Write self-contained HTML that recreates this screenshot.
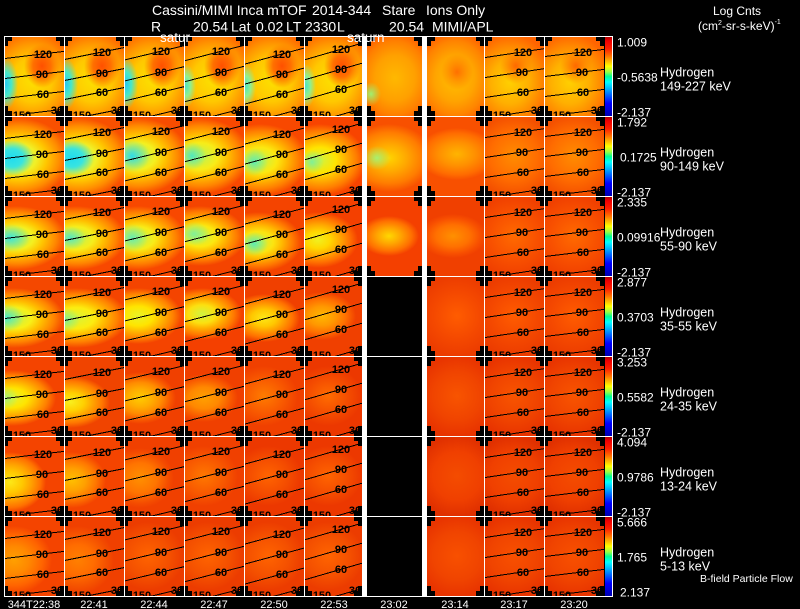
<!DOCTYPE html>
<html><head><meta charset="utf-8"><style>
html,body{margin:0;padding:0;background:#000;width:800px;height:609px;overflow:hidden;position:relative}
.c{position:absolute;width:60px;height:80px}
.w58{width:58px}.w55{width:55px}.w57{width:57px}
.cb{position:absolute;left:605px;width:7px;height:79px;background:linear-gradient(to bottom,#b00000 0%,#f00000 5%,#ff2000 15%,#ff7000 24%,#ffb000 30%,#ffff00 37%,#a0ff40 44%,#00ff90 50%,#00ffff 57%,#00b0ff 66%,#0060ff 74%,#0000ff 84%,#0000b0 100%)}
.a1{background:radial-gradient(12px 26px at 2px 48px,#28c8f0,#48e8c8 45%,rgba(200,248,64,0)),radial-gradient(18px 22px at 38px 30px,#ff5000,#ff7000 50%,rgba(255,160,0,0)),radial-gradient(44px 48px at 28px 44px,#fce000,#ffc800 45%,#ff9800 75%,#ff6a00)}
.a2{background:radial-gradient(10px 22px at 2px 50px,#50e4c0,#90f090 45%,rgba(200,248,64,0)),radial-gradient(18px 22px at 38px 30px,#ff5000,#ff7000 50%,rgba(255,160,0,0)),radial-gradient(44px 48px at 28px 44px,#fce000,#ffc800 45%,#ff9800 75%,#ff6a00)}
.a7{background:radial-gradient(10px 12px at 4px 58px,#a0f070,rgba(255,200,0,0)),radial-gradient(40px 46px at 28px 42px,#ffb800,#ffa000 50%,#ff8000 80%,#ff6000)}
.a8{background:radial-gradient(16px 18px at 30px 36px,#ff7000,rgba(255,140,0,0)),radial-gradient(40px 46px at 28px 42px,#ffc000,#ffa400 50%,#ff8400 80%,#ff6400)}
.a9{background:radial-gradient(16px 18px at 32px 30px,#ff6800,rgba(255,140,0,0)),radial-gradient(42px 48px at 26px 46px,#ffd000,#ffb000 45%,#ff8800 75%,#ff6400)}
.b1{background:radial-gradient(22px 18px at 8px 42px,#20dcf0,#38e4e0 50%,rgba(140,240,110,0)),radial-gradient(52px 40px at 14px 42px,#a8f468,#f0f028 35%,#ffc800 55%,#ff8c00 80%,#f85000)}
.b3{background:radial-gradient(18px 16px at 8px 40px,#30dce8,rgba(140,240,110,0)),radial-gradient(50px 38px at 14px 40px,#b0f460,#f4f020 35%,#ffc400 55%,#ff8800 80%,#f84c00)}
.b4{background:radial-gradient(14px 14px at 8px 40px,#50e8c0,rgba(160,244,100,0)),radial-gradient(50px 38px at 16px 40px,#b8f458,#f8ec18 35%,#ffc000 55%,#ff8400 80%,#f84800)}
.b5{background:radial-gradient(14px 14px at 10px 46px,#60ecb0,rgba(170,244,90,0)),radial-gradient(48px 36px at 16px 44px,#c0f450,#fce810 35%,#ffbc00 55%,#ff8000 80%,#f84800)}
.b6{background:radial-gradient(12px 12px at 8px 46px,#80f098,rgba(190,244,80,0)),radial-gradient(46px 36px at 16px 44px,#d0f440,#ffe400 35%,#ffb400 55%,#ff7c00 80%,#f84400)}
.b7{background:radial-gradient(14px 12px at 10px 42px,#a8f070,rgba(255,210,0,0)),radial-gradient(44px 34px at 22px 42px,#ffd400,#ffa800 40%,#ff7c00 75%,#f85000)}
.b8{background:radial-gradient(40px 26px at 30px 38px,#ffb400,#ff9000 45%,#ff6c00 80%,#f85000)}
.b9{background:radial-gradient(40px 40px at 30px 40px,#ff8c00,#ff6c00 60%,#f45000)}
.d1{background:radial-gradient(20px 14px at 6px 42px,#40e4d8,rgba(150,240,100,0)),radial-gradient(50px 32px at 12px 42px,#b0f460,#f4f020 35%,#ffc400 55%,#ff8800 80%,#f84c00)}
.d2{background:radial-gradient(16px 12px at 6px 42px,#58e8c0,rgba(150,240,100,0)),radial-gradient(50px 32px at 12px 42px,#b8f458,#f6ee1c 35%,#ffc000 55%,#ff8400 80%,#f84800)}
.d3{background:radial-gradient(16px 14px at 8px 42px,#68ecb0,rgba(170,244,90,0)),radial-gradient(48px 32px at 14px 42px,#c0f450,#f8ec18 35%,#ffbc00 55%,#ff8000 80%,#f84800)}
.d4{background:radial-gradient(16px 12px at 10px 38px,#80f098,rgba(190,244,80,0)),radial-gradient(46px 30px at 16px 40px,#c8f448,#fce810 35%,#ffb800 55%,#ff7c00 80%,#f44400)}
.d5{background:radial-gradient(14px 12px at 10px 48px,#60ecb0,rgba(190,244,80,0)),radial-gradient(44px 30px at 14px 46px,#c8f448,#fce410 35%,#ffb800 55%,#ff7800 80%,#f44400)}
.d6{background:radial-gradient(40px 28px at 14px 44px,#f0f020,#ffd800 30%,#ffa800 55%,#ff7000 80%,#f44000)}
.d7{background:radial-gradient(30px 20px at 22px 40px,#ffd800,#ffa400 40%,#ff7000 75%,#f44000)}
.d8{background:radial-gradient(34px 22px at 26px 40px,#ff9000,#ff7000 50%,#f85000 80%,#f04000)}
.d9{background:radial-gradient(40px 40px at 30px 40px,#ff6a00,#f85000 60%,#f04000)}
.e1{background:radial-gradient(18px 14px at 2px 42px,#48e8c8,rgba(170,240,90,0)),radial-gradient(50px 30px at 10px 42px,#c0f450,#f8f018 35%,#ffc000 55%,#ff8400 80%,#f44800)}
.e2{background:radial-gradient(14px 12px at 2px 44px,#80f090,rgba(200,244,70,0)),radial-gradient(52px 30px at 12px 42px,#d8f438,#fcec10 35%,#ffbc00 55%,#ff8000 80%,#f44400)}
.e3{background:radial-gradient(44px 28px at 14px 40px,#e8f428,#ffe400 35%,#ffb800 55%,#ff8000 80%,#f44400)}
.e4{background:radial-gradient(40px 26px at 18px 38px,#d0f440,#fce010 35%,#ffb000 55%,#ff7800 80%,#f44000)}
.e5{background:radial-gradient(36px 24px at 20px 42px,#fce818,#ffc800 35%,#ffa000 55%,#ff7000 80%,#f04000)}
.e6{background:radial-gradient(34px 24px at 18px 40px,#ffb800,#ff9800 40%,#ff7000 70%,#f04000)}
.e8{background:radial-gradient(40px 40px at 30px 40px,#ff5c00,#f44800 60%,#ec3c00)}
.f1{background:radial-gradient(12px 12px at 2px 42px,#a8f070,rgba(230,244,50,0)),radial-gradient(44px 28px at 8px 42px,#e4f430,#ffe400 35%,#ffb800 55%,#ff8000 80%,#f44400)}
.f2{background:radial-gradient(40px 26px at 6px 46px,#f8f020,#ffd000 35%,#ffa800 55%,#ff7800 80%,#f04400)}
.f3{background:radial-gradient(36px 26px at 16px 42px,#ffcc00,#ffac00 35%,#ff8c00 60%,#f85800 85%,#f04000)}
.f4{background:radial-gradient(34px 24px at 20px 42px,#ffa000,#ff8800 45%,#f85800 80%,#f04000)}
.f5{background:radial-gradient(34px 30px at 20px 40px,#ff7c00,#f85800 60%,#f04000)}
.f6{background:radial-gradient(34px 30px at 24px 40px,#ff6c00,#f44c00 60%,#ec3800)}
.f8{background:radial-gradient(40px 40px at 30px 40px,#f85400,#f04400 60%,#e83400)}
.g1{background:radial-gradient(36px 30px at 6px 46px,#fce818,#ffc800 35%,#ffa000 60%,#ff7000 85%,#f44400)}
.g2{background:radial-gradient(34px 28px at 8px 44px,#ffc000,#ffa000 40%,#ff7800 70%,#f44400)}
.g3{background:radial-gradient(34px 30px at 16px 42px,#ff9000,#ff7400 50%,#f44c00 85%,#f04000)}
.g4{background:radial-gradient(34px 30px at 20px 40px,#ff7800,#f85800 60%,#f04000)}
.g5{background:radial-gradient(34px 30px at 24px 40px,#ff6400,#f44c00 60%,#ec3800)}
.g8{background:radial-gradient(40px 40px at 30px 40px,#f44c00,#f04000 60%,#e03000)}
.h1{background:radial-gradient(38px 34px at 10px 44px,#ffa000,#ff8800 40%,#ff6400 75%,#f44400)}
.h2{background:radial-gradient(36px 34px at 14px 44px,#ff8000,#ff6c00 45%,#f45000 80%,#f04000)}
.h3{background:radial-gradient(36px 34px at 24px 40px,#ff6400,#f45000 60%,#ec3c00)}
.h8{background:radial-gradient(40px 40px at 30px 40px,#f85000,#f04400 60%,#e83400)}
svg text{font-family:"Liberation Sans",Arial,sans-serif}
.n{fill:#000}
.k{stroke:#000;fill:none;stroke-width:1;shape-rendering:crispEdges}
.t text{font-weight:bold;font-size:11px;text-anchor:middle;fill:#000}
.w text,.w{fill:#fff}
</style></head><body>

<div class="c a1" style="left:4px;top:36px"></div>
<div class="c a1" style="left:64px;top:36px"></div>
<div class="c a1" style="left:124px;top:36px"></div>
<div class="c a2" style="left:184px;top:36px"></div>
<div class="c a2" style="left:244px;top:36px"></div>
<div class="c a2 w58" style="left:304px;top:36px"></div>
<div class="c a7 w55" style="left:367px;top:36px"></div>
<div class="c a8 w57" style="left:427px;top:36px"></div>
<div class="c a9" style="left:484px;top:36px"></div>
<div class="c a9" style="left:544px;top:36px"></div>

<div class="c b1" style="left:4px;top:116px"></div>
<div class="c b1" style="left:64px;top:116px"></div>
<div class="c b3" style="left:124px;top:116px"></div>
<div class="c b4" style="left:184px;top:116px"></div>
<div class="c b5" style="left:244px;top:116px"></div>
<div class="c b6 w58" style="left:304px;top:116px"></div>
<div class="c b7 w55" style="left:367px;top:116px"></div>
<div class="c b8 w57" style="left:427px;top:116px"></div>
<div class="c b9" style="left:484px;top:116px"></div>
<div class="c b9" style="left:544px;top:116px"></div>

<div class="c d1" style="left:4px;top:196px"></div>
<div class="c d2" style="left:64px;top:196px"></div>
<div class="c d3" style="left:124px;top:196px"></div>
<div class="c d4" style="left:184px;top:196px"></div>
<div class="c d5" style="left:244px;top:196px"></div>
<div class="c d6 w58" style="left:304px;top:196px"></div>
<div class="c d7 w55" style="left:367px;top:196px"></div>
<div class="c d8 w57" style="left:427px;top:196px"></div>
<div class="c d9" style="left:484px;top:196px"></div>
<div class="c d9" style="left:544px;top:196px"></div>

<div class="c e1" style="left:4px;top:276px"></div>
<div class="c e2" style="left:64px;top:276px"></div>
<div class="c e3" style="left:124px;top:276px"></div>
<div class="c e4" style="left:184px;top:276px"></div>
<div class="c e5" style="left:244px;top:276px"></div>
<div class="c e6 w58" style="left:304px;top:276px"></div>
<div class="c e8 w57" style="left:427px;top:276px"></div>
<div class="c e8" style="left:484px;top:276px"></div>
<div class="c e8" style="left:544px;top:276px"></div>

<div class="c f1" style="left:4px;top:356px"></div>
<div class="c f2" style="left:64px;top:356px"></div>
<div class="c f3" style="left:124px;top:356px"></div>
<div class="c f4" style="left:184px;top:356px"></div>
<div class="c f5" style="left:244px;top:356px"></div>
<div class="c f6 w58" style="left:304px;top:356px"></div>
<div class="c f8 w57" style="left:427px;top:356px"></div>
<div class="c f8" style="left:484px;top:356px"></div>
<div class="c f8" style="left:544px;top:356px"></div>

<div class="c g1" style="left:4px;top:436px"></div>
<div class="c g2" style="left:64px;top:436px"></div>
<div class="c g3" style="left:124px;top:436px"></div>
<div class="c g4" style="left:184px;top:436px"></div>
<div class="c g5" style="left:244px;top:436px"></div>
<div class="c g5 w58" style="left:304px;top:436px"></div>
<div class="c g8 w57" style="left:427px;top:436px"></div>
<div class="c g8" style="left:484px;top:436px"></div>
<div class="c g8" style="left:544px;top:436px"></div>

<div class="c h1" style="left:4px;top:516px"></div>
<div class="c h2" style="left:64px;top:516px"></div>
<div class="c h3" style="left:124px;top:516px"></div>
<div class="c h3" style="left:184px;top:516px"></div>
<div class="c h3" style="left:244px;top:516px"></div>
<div class="c h3 w58" style="left:304px;top:516px"></div>
<div class="c h8 w57" style="left:427px;top:516px"></div>
<div class="c h8" style="left:484px;top:516px"></div>
<div class="c h8" style="left:544px;top:516px"></div>

<div class="cb" style="top:37px"></div>
<div class="cb" style="top:117px"></div>
<div class="cb" style="top:197px"></div>
<div class="cb" style="top:277px"></div>
<div class="cb" style="top:357px"></div>
<div class="cb" style="top:437px"></div>
<div class="cb" style="top:517px"></div>

<svg width="800" height="609" style="position:absolute;left:0;top:0" xmlns="http://www.w3.org/2000/svg">
<defs>
<path id="n60" d="M0 0h8v5h-4v5h-4zM60 0h-8v5h4v5h4zM0 80h8v-5h-4v-5h-4zM60 80h-8v-5h4v-5h4z"/>
<path id="n58" d="M0 0h8v5h-4v5h-4zM58 0h-8v5h4v5h4zM0 80h8v-5h-4v-5h-4zM58 80h-8v-5h4v-5h4z"/>
<path id="n55" d="M0 0h8v5h-4v5h-4zM55 0h-8v5h4v5h4zM0 80h8v-5h-4v-5h-4zM55 80h-8v-5h4v-5h4z"/>
<path id="n57" d="M0 0h8v5h-4v5h-4zM57 0h-8v5h4v5h4zM0 80h8v-5h-4v-5h-4zM57 80h-8v-5h4v-5h4z"/>
<path id="k1" d="M0 22.6L60 15.4M0 42.6L60 35.4M0 62.6L60 55.4M20 78L60 73.2"/>
<path id="k2" d="M0 23.6L60 11.6M0 44.6L60 32.6M0 63.6L60 51.6M20 80.6L60 72.6"/>
<path id="k3" d="M0 24.1L60 9.7M0 45.1L60 30.7M0 65.1L60 50.7M20 81.9L60 72.3"/>
<path id="k4" d="M0 24.9L60 9.3M0 45.9L60 30.3M0 65.9L60 50.3M20 82.6L60 72.2"/>
<path id="k5" d="M0 28.3L60 12.1M0 48.3L60 32.1M0 68.3L60 52.1M20 82.9L60 72.1"/>
<path id="k6" d="M0 24L58 7.2M0 44L58 27.2M0 64L58 47.2M20 83.6L58 72.6"/>
<path id="k9" d="M0 21.7L60 12.7M0 41.7L60 32.7M0 61.7L60 52.7M20 79L60 73"/>
<path id="k10" d="M0 20.6L60 13.4M0 40.6L60 33.4M0 60.6L60 53.4M20 78L60 73.2"/>
</defs>

<g class="t">
<!-- row 1 -->
<svg x="4" y="36" width="60" height="80"><use href="#n60" class="n"/><use href="#k1" class="k"/><text x="39" y="22">120</text><text x="38" y="42">90</text><text x="39" y="62">60</text><text x="18" y="83">150</text><text x="53" y="78">30</text></svg>
<svg x="64" y="36" width="60" height="80"><use href="#n60" class="n"/><use href="#k2" class="k"/><text x="38" y="20">120</text><text x="38" y="41">90</text><text x="38" y="60">60</text><text x="18" y="83">150</text><text x="53" y="78">30</text></svg>
<svg x="124" y="36" width="60" height="80"><use href="#n60" class="n"/><use href="#k3" class="k"/><text x="37" y="19">120</text><text x="37" y="40">90</text><text x="37" y="60">60</text><text x="18" y="83">150</text><text x="53" y="78">30</text></svg>
<svg x="184" y="36" width="60" height="80"><use href="#n60" class="n"/><use href="#k4" class="k"/><text x="37" y="19">120</text><text x="37" y="40">90</text><text x="37" y="60">60</text><text x="18" y="83">150</text><text x="53" y="78">30</text></svg>
<svg x="244" y="36" width="60" height="80"><use href="#n60" class="n"/><use href="#k5" class="k"/><text x="38" y="22">120</text><text x="38" y="42">90</text><text x="38" y="62">60</text><text x="18" y="83">150</text><text x="53" y="78">30</text></svg>
<svg x="304" y="36" width="58" height="80"><use href="#n58" class="n"/><use href="#k6" class="k"/><text x="37" y="17">120</text><text x="37" y="37">90</text><text x="37" y="57">60</text><text x="18" y="83">150</text><text x="51" y="78">30</text></svg>
<svg x="367" y="36" width="55" height="80"><use href="#n55" class="n"/></svg>
<svg x="427" y="36" width="57" height="80"><use href="#n57" class="n"/></svg>
<svg x="484" y="36" width="60" height="80"><use href="#n60" class="n"/><use href="#k9" class="k"/><text x="39" y="20">120</text><text x="38" y="40">90</text><text x="39" y="60">60</text><text x="18" y="83">150</text><text x="53" y="78">30</text></svg>
<svg x="544" y="36" width="60" height="80"><use href="#n60" class="n"/><use href="#k10" class="k"/><text x="39" y="20">120</text><text x="38" y="40">90</text><text x="39" y="60">60</text><text x="18" y="83">150</text><text x="53" y="78">30</text></svg>
<!-- row 2 -->
<svg x="4" y="116" width="60" height="80"><use href="#n60" class="n"/><use href="#k1" class="k"/><text x="39" y="22">120</text><text x="38" y="42">90</text><text x="39" y="62">60</text><text x="18" y="83">150</text><text x="53" y="78">30</text></svg>
<svg x="64" y="116" width="60" height="80"><use href="#n60" class="n"/><use href="#k2" class="k"/><text x="38" y="20">120</text><text x="38" y="41">90</text><text x="38" y="60">60</text><text x="18" y="83">150</text><text x="53" y="78">30</text></svg>
<svg x="124" y="116" width="60" height="80"><use href="#n60" class="n"/><use href="#k3" class="k"/><text x="37" y="19">120</text><text x="37" y="40">90</text><text x="37" y="60">60</text><text x="18" y="83">150</text><text x="53" y="78">30</text></svg>
<svg x="184" y="116" width="60" height="80"><use href="#n60" class="n"/><use href="#k4" class="k"/><text x="37" y="19">120</text><text x="37" y="40">90</text><text x="37" y="60">60</text><text x="18" y="83">150</text><text x="53" y="78">30</text></svg>
<svg x="244" y="116" width="60" height="80"><use href="#n60" class="n"/><use href="#k5" class="k"/><text x="38" y="22">120</text><text x="38" y="42">90</text><text x="38" y="62">60</text><text x="18" y="83">150</text><text x="53" y="78">30</text></svg>
<svg x="304" y="116" width="58" height="80"><use href="#n58" class="n"/><use href="#k6" class="k"/><text x="37" y="17">120</text><text x="37" y="37">90</text><text x="37" y="57">60</text><text x="18" y="83">150</text><text x="51" y="78">30</text></svg>
<svg x="367" y="116" width="55" height="80"><use href="#n55" class="n"/></svg>
<svg x="427" y="116" width="57" height="80"><use href="#n57" class="n"/></svg>
<svg x="484" y="116" width="60" height="80"><use href="#n60" class="n"/><use href="#k9" class="k"/><text x="39" y="20">120</text><text x="38" y="40">90</text><text x="39" y="60">60</text><text x="18" y="83">150</text><text x="53" y="78">30</text></svg>
<svg x="544" y="116" width="60" height="80"><use href="#n60" class="n"/><use href="#k10" class="k"/><text x="39" y="20">120</text><text x="38" y="40">90</text><text x="39" y="60">60</text><text x="18" y="83">150</text><text x="53" y="78">30</text></svg>
<!-- row 3 -->
<svg x="4" y="196" width="60" height="80"><use href="#n60" class="n"/><use href="#k1" class="k"/><text x="39" y="22">120</text><text x="38" y="42">90</text><text x="39" y="62">60</text><text x="18" y="83">150</text><text x="53" y="78">30</text></svg>
<svg x="64" y="196" width="60" height="80"><use href="#n60" class="n"/><use href="#k2" class="k"/><text x="38" y="20">120</text><text x="38" y="41">90</text><text x="38" y="60">60</text><text x="18" y="83">150</text><text x="53" y="78">30</text></svg>
<svg x="124" y="196" width="60" height="80"><use href="#n60" class="n"/><use href="#k3" class="k"/><text x="37" y="19">120</text><text x="37" y="40">90</text><text x="37" y="60">60</text><text x="18" y="83">150</text><text x="53" y="78">30</text></svg>
<svg x="184" y="196" width="60" height="80"><use href="#n60" class="n"/><use href="#k4" class="k"/><text x="37" y="19">120</text><text x="37" y="40">90</text><text x="37" y="60">60</text><text x="18" y="83">150</text><text x="53" y="78">30</text></svg>
<svg x="244" y="196" width="60" height="80"><use href="#n60" class="n"/><use href="#k5" class="k"/><text x="38" y="22">120</text><text x="38" y="42">90</text><text x="38" y="62">60</text><text x="18" y="83">150</text><text x="53" y="78">30</text></svg>
<svg x="304" y="196" width="58" height="80"><use href="#n58" class="n"/><use href="#k6" class="k"/><text x="37" y="17">120</text><text x="37" y="37">90</text><text x="37" y="57">60</text><text x="18" y="83">150</text><text x="51" y="78">30</text></svg>
<svg x="367" y="196" width="55" height="80"><use href="#n55" class="n"/></svg>
<svg x="427" y="196" width="57" height="80"><use href="#n57" class="n"/></svg>
<svg x="484" y="196" width="60" height="80"><use href="#n60" class="n"/><use href="#k9" class="k"/><text x="39" y="20">120</text><text x="38" y="40">90</text><text x="39" y="60">60</text><text x="18" y="83">150</text><text x="53" y="78">30</text></svg>
<svg x="544" y="196" width="60" height="80"><use href="#n60" class="n"/><use href="#k10" class="k"/><text x="39" y="20">120</text><text x="38" y="40">90</text><text x="39" y="60">60</text><text x="18" y="83">150</text><text x="53" y="78">30</text></svg>
<!-- row 4 -->
<svg x="4" y="276" width="60" height="80"><use href="#n60" class="n"/><use href="#k1" class="k"/><text x="39" y="22">120</text><text x="38" y="42">90</text><text x="39" y="62">60</text><text x="18" y="83">150</text><text x="53" y="78">30</text></svg>
<svg x="64" y="276" width="60" height="80"><use href="#n60" class="n"/><use href="#k2" class="k"/><text x="38" y="20">120</text><text x="38" y="41">90</text><text x="38" y="60">60</text><text x="18" y="83">150</text><text x="53" y="78">30</text></svg>
<svg x="124" y="276" width="60" height="80"><use href="#n60" class="n"/><use href="#k3" class="k"/><text x="37" y="19">120</text><text x="37" y="40">90</text><text x="37" y="60">60</text><text x="18" y="83">150</text><text x="53" y="78">30</text></svg>
<svg x="184" y="276" width="60" height="80"><use href="#n60" class="n"/><use href="#k4" class="k"/><text x="37" y="19">120</text><text x="37" y="40">90</text><text x="37" y="60">60</text><text x="18" y="83">150</text><text x="53" y="78">30</text></svg>
<svg x="244" y="276" width="60" height="80"><use href="#n60" class="n"/><use href="#k5" class="k"/><text x="38" y="22">120</text><text x="38" y="42">90</text><text x="38" y="62">60</text><text x="18" y="83">150</text><text x="53" y="78">30</text></svg>
<svg x="304" y="276" width="58" height="80"><use href="#n58" class="n"/><use href="#k6" class="k"/><text x="37" y="17">120</text><text x="37" y="37">90</text><text x="37" y="57">60</text><text x="18" y="83">150</text><text x="51" y="78">30</text></svg>
<svg x="427" y="276" width="57" height="80"><use href="#n57" class="n"/></svg>
<svg x="484" y="276" width="60" height="80"><use href="#n60" class="n"/><use href="#k9" class="k"/><text x="39" y="20">120</text><text x="38" y="40">90</text><text x="39" y="60">60</text><text x="18" y="83">150</text><text x="53" y="78">30</text></svg>
<svg x="544" y="276" width="60" height="80"><use href="#n60" class="n"/><use href="#k10" class="k"/><text x="39" y="20">120</text><text x="38" y="40">90</text><text x="39" y="60">60</text><text x="18" y="83">150</text><text x="53" y="78">30</text></svg>
<!-- row 5 -->
<svg x="4" y="356" width="60" height="80"><use href="#n60" class="n"/><use href="#k1" class="k"/><text x="39" y="22">120</text><text x="38" y="42">90</text><text x="39" y="62">60</text><text x="18" y="83">150</text><text x="53" y="78">30</text></svg>
<svg x="64" y="356" width="60" height="80"><use href="#n60" class="n"/><use href="#k2" class="k"/><text x="38" y="20">120</text><text x="38" y="41">90</text><text x="38" y="60">60</text><text x="18" y="83">150</text><text x="53" y="78">30</text></svg>
<svg x="124" y="356" width="60" height="80"><use href="#n60" class="n"/><use href="#k3" class="k"/><text x="37" y="19">120</text><text x="37" y="40">90</text><text x="37" y="60">60</text><text x="18" y="83">150</text><text x="53" y="78">30</text></svg>
<svg x="184" y="356" width="60" height="80"><use href="#n60" class="n"/><use href="#k4" class="k"/><text x="37" y="19">120</text><text x="37" y="40">90</text><text x="37" y="60">60</text><text x="18" y="83">150</text><text x="53" y="78">30</text></svg>
<svg x="244" y="356" width="60" height="80"><use href="#n60" class="n"/><use href="#k5" class="k"/><text x="38" y="22">120</text><text x="38" y="42">90</text><text x="38" y="62">60</text><text x="18" y="83">150</text><text x="53" y="78">30</text></svg>
<svg x="304" y="356" width="58" height="80"><use href="#n58" class="n"/><use href="#k6" class="k"/><text x="37" y="17">120</text><text x="37" y="37">90</text><text x="37" y="57">60</text><text x="18" y="83">150</text><text x="51" y="78">30</text></svg>
<svg x="427" y="356" width="57" height="80"><use href="#n57" class="n"/></svg>
<svg x="484" y="356" width="60" height="80"><use href="#n60" class="n"/><use href="#k9" class="k"/><text x="39" y="20">120</text><text x="38" y="40">90</text><text x="39" y="60">60</text><text x="18" y="83">150</text><text x="53" y="78">30</text></svg>
<svg x="544" y="356" width="60" height="80"><use href="#n60" class="n"/><use href="#k10" class="k"/><text x="39" y="20">120</text><text x="38" y="40">90</text><text x="39" y="60">60</text><text x="18" y="83">150</text><text x="53" y="78">30</text></svg>
<!-- row 6 -->
<svg x="4" y="436" width="60" height="80"><use href="#n60" class="n"/><use href="#k1" class="k"/><text x="39" y="22">120</text><text x="38" y="42">90</text><text x="39" y="62">60</text><text x="18" y="83">150</text><text x="53" y="78">30</text></svg>
<svg x="64" y="436" width="60" height="80"><use href="#n60" class="n"/><use href="#k2" class="k"/><text x="38" y="20">120</text><text x="38" y="41">90</text><text x="38" y="60">60</text><text x="18" y="83">150</text><text x="53" y="78">30</text></svg>
<svg x="124" y="436" width="60" height="80"><use href="#n60" class="n"/><use href="#k3" class="k"/><text x="37" y="19">120</text><text x="37" y="40">90</text><text x="37" y="60">60</text><text x="18" y="83">150</text><text x="53" y="78">30</text></svg>
<svg x="184" y="436" width="60" height="80"><use href="#n60" class="n"/><use href="#k4" class="k"/><text x="37" y="19">120</text><text x="37" y="40">90</text><text x="37" y="60">60</text><text x="18" y="83">150</text><text x="53" y="78">30</text></svg>
<svg x="244" y="436" width="60" height="80"><use href="#n60" class="n"/><use href="#k5" class="k"/><text x="38" y="22">120</text><text x="38" y="42">90</text><text x="38" y="62">60</text><text x="18" y="83">150</text><text x="53" y="78">30</text></svg>
<svg x="304" y="436" width="58" height="80"><use href="#n58" class="n"/><use href="#k6" class="k"/><text x="37" y="17">120</text><text x="37" y="37">90</text><text x="37" y="57">60</text><text x="18" y="83">150</text><text x="51" y="78">30</text></svg>
<svg x="427" y="436" width="57" height="80"><use href="#n57" class="n"/></svg>
<svg x="484" y="436" width="60" height="80"><use href="#n60" class="n"/><use href="#k9" class="k"/><text x="39" y="20">120</text><text x="38" y="40">90</text><text x="39" y="60">60</text><text x="18" y="83">150</text><text x="53" y="78">30</text></svg>
<svg x="544" y="436" width="60" height="80"><use href="#n60" class="n"/><use href="#k10" class="k"/><text x="39" y="20">120</text><text x="38" y="40">90</text><text x="39" y="60">60</text><text x="18" y="83">150</text><text x="53" y="78">30</text></svg>
<!-- row 7 -->
<svg x="4" y="516" width="60" height="80"><use href="#n60" class="n"/><use href="#k1" class="k"/><text x="39" y="22">120</text><text x="38" y="42">90</text><text x="39" y="62">60</text><text x="18" y="83">150</text><text x="53" y="78">30</text></svg>
<svg x="64" y="516" width="60" height="80"><use href="#n60" class="n"/><use href="#k2" class="k"/><text x="38" y="20">120</text><text x="38" y="41">90</text><text x="38" y="60">60</text><text x="18" y="83">150</text><text x="53" y="78">30</text></svg>
<svg x="124" y="516" width="60" height="80"><use href="#n60" class="n"/><use href="#k3" class="k"/><text x="37" y="19">120</text><text x="37" y="40">90</text><text x="37" y="60">60</text><text x="18" y="83">150</text><text x="53" y="78">30</text></svg>
<svg x="184" y="516" width="60" height="80"><use href="#n60" class="n"/><use href="#k4" class="k"/><text x="37" y="19">120</text><text x="37" y="40">90</text><text x="37" y="60">60</text><text x="18" y="83">150</text><text x="53" y="78">30</text></svg>
<svg x="244" y="516" width="60" height="80"><use href="#n60" class="n"/><use href="#k5" class="k"/><text x="38" y="22">120</text><text x="38" y="42">90</text><text x="38" y="62">60</text><text x="18" y="83">150</text><text x="53" y="78">30</text></svg>
<svg x="304" y="516" width="58" height="80"><use href="#n58" class="n"/><use href="#k6" class="k"/><text x="37" y="17">120</text><text x="37" y="37">90</text><text x="37" y="57">60</text><text x="18" y="83">150</text><text x="51" y="78">30</text></svg>
<svg x="427" y="516" width="57" height="80"><use href="#n57" class="n"/></svg>
<svg x="484" y="516" width="60" height="80"><use href="#n60" class="n"/><use href="#k9" class="k"/><text x="39" y="20">120</text><text x="38" y="40">90</text><text x="39" y="60">60</text><text x="18" y="83">150</text><text x="53" y="78">30</text></svg>
<svg x="544" y="516" width="60" height="80"><use href="#n60" class="n"/><use href="#k10" class="k"/><text x="39" y="20">120</text><text x="38" y="40">90</text><text x="39" y="60">60</text><text x="18" y="83">150</text><text x="53" y="78">30</text></svg>
</g>

<!-- grid -->
<g fill="#fff" shape-rendering="crispEdges">
<rect x="4" y="36" width="609" height="1"/>
<rect x="4" y="116" width="609" height="1"/>
<rect x="4" y="196" width="609" height="1"/>
<rect x="4" y="276" width="609" height="1"/>
<rect x="4" y="356" width="609" height="1"/>
<rect x="4" y="436" width="609" height="1"/>
<rect x="4" y="516" width="609" height="1"/>
<rect x="4" y="596" width="609" height="1"/>
<rect x="4" y="36" width="1" height="561"/>
<rect x="64" y="36" width="1" height="561"/>
<rect x="124" y="36" width="1" height="561"/>
<rect x="184" y="36" width="1" height="561"/>
<rect x="244" y="36" width="1" height="561"/>
<rect x="304" y="36" width="1" height="561"/>
<rect x="362" y="36" width="5" height="561"/>
<rect x="422" y="36" width="5" height="561"/>
<rect x="484" y="36" width="1" height="561"/>
<rect x="544" y="36" width="1" height="561"/>
<rect x="612" y="36" width="1" height="561"/>
</g>

<!-- header -->
<g class="w" font-size="14">
<text x="152" y="15">Cassini/MIMI Inca mTOF</text>
<text x="312" y="15">2014-344</text>
<text x="382" y="15">Stare</text>
<text x="426" y="15">Ions Only</text>
<text x="151" y="31.5">R</text>
<text x="193" y="31.5">20.54</text>
<text x="231" y="31.5">Lat</text>
<text x="256" y="31.5">0.02</text>
<text x="286" y="31.5">LT</text>
<text x="305" y="31.5">2330</text>
<text x="337" y="31.5">L</text>
<text x="389" y="31.5">20.54</text>
<text x="432" y="31.5">MIMI/APL</text>
</g>
<g class="w" font-size="12">
<text x="713" y="15">Log Cnts</text>
<text x="698" y="30">(cm<tspan font-size="7" dy="-5">2</tspan><tspan dy="5">-sr-s-keV)</tspan><tspan font-size="7" dy="-6">-1</tspan></text>
</g>
<g class="w" font-size="13.5">
<text x="160" y="42">satur</text>
<text x="347" y="42">saturn</text>
</g>

<!-- colorbar labels -->
<g class="w" font-size="12">
<text x="617" y="46.5">1.009</text><text x="617" y="81.5">-0.5638</text><text x="617" y="116.5">-2.137</text>
<text x="617" y="126.5">1.792</text><text x="620" y="161.5">0.1725</text><text x="617" y="196.5">-2.137</text>
<text x="617" y="206.5">2.335</text><text x="617" y="241.5">0.09916</text><text x="617" y="276.5">-2.137</text>
<text x="617" y="286.5">2.877</text><text x="617" y="321.5">0.3703</text><text x="617" y="356.5">-2.137</text>
<text x="617" y="366.5">3.253</text><text x="617" y="401.5">0.5582</text><text x="617" y="436.5">-2.137</text>
<text x="617" y="446.5">4.094</text><text x="617" y="481.5">0.9786</text><text x="617" y="516.5">-2.137</text>
<text x="617" y="526.5">5.666</text><text x="617" y="561.5">1.765</text><text x="620" y="596.5">2.137</text>
</g>
<g class="w" font-size="12.5">
<text x="660" y="76.7">Hydrogen</text><text x="660" y="90.7">149-227 keV</text>
<text x="660" y="156.7">Hydrogen</text><text x="660" y="170.7">90-149 keV</text>
<text x="660" y="236.7">Hydrogen</text><text x="660" y="250.7">55-90 keV</text>
<text x="660" y="316.7">Hydrogen</text><text x="660" y="330.7">35-55 keV</text>
<text x="660" y="396.7">Hydrogen</text><text x="660" y="410.7">24-35 keV</text>
<text x="660" y="476.7">Hydrogen</text><text x="660" y="490.7">13-24 keV</text>
<text x="660" y="556.7">Hydrogen</text><text x="660" y="570.7">5-13 keV</text>
</g>
<text class="w" x="700" y="582" font-size="10.5">B-field Particle Flow</text>

<!-- time labels -->
<g class="w" font-size="11" text-anchor="middle">
<text x="34" y="608">344T22:38</text>
<text x="94" y="608">22:41</text>
<text x="154" y="608">22:44</text>
<text x="214" y="608">22:47</text>
<text x="274" y="608">22:50</text>
<text x="334" y="608">22:53</text>
<text x="394" y="608">23:02</text>
<text x="455" y="608">23:14</text>
<text x="514" y="608">23:17</text>
<text x="574" y="608">23:20</text>
</g>
</svg>
</body></html>
